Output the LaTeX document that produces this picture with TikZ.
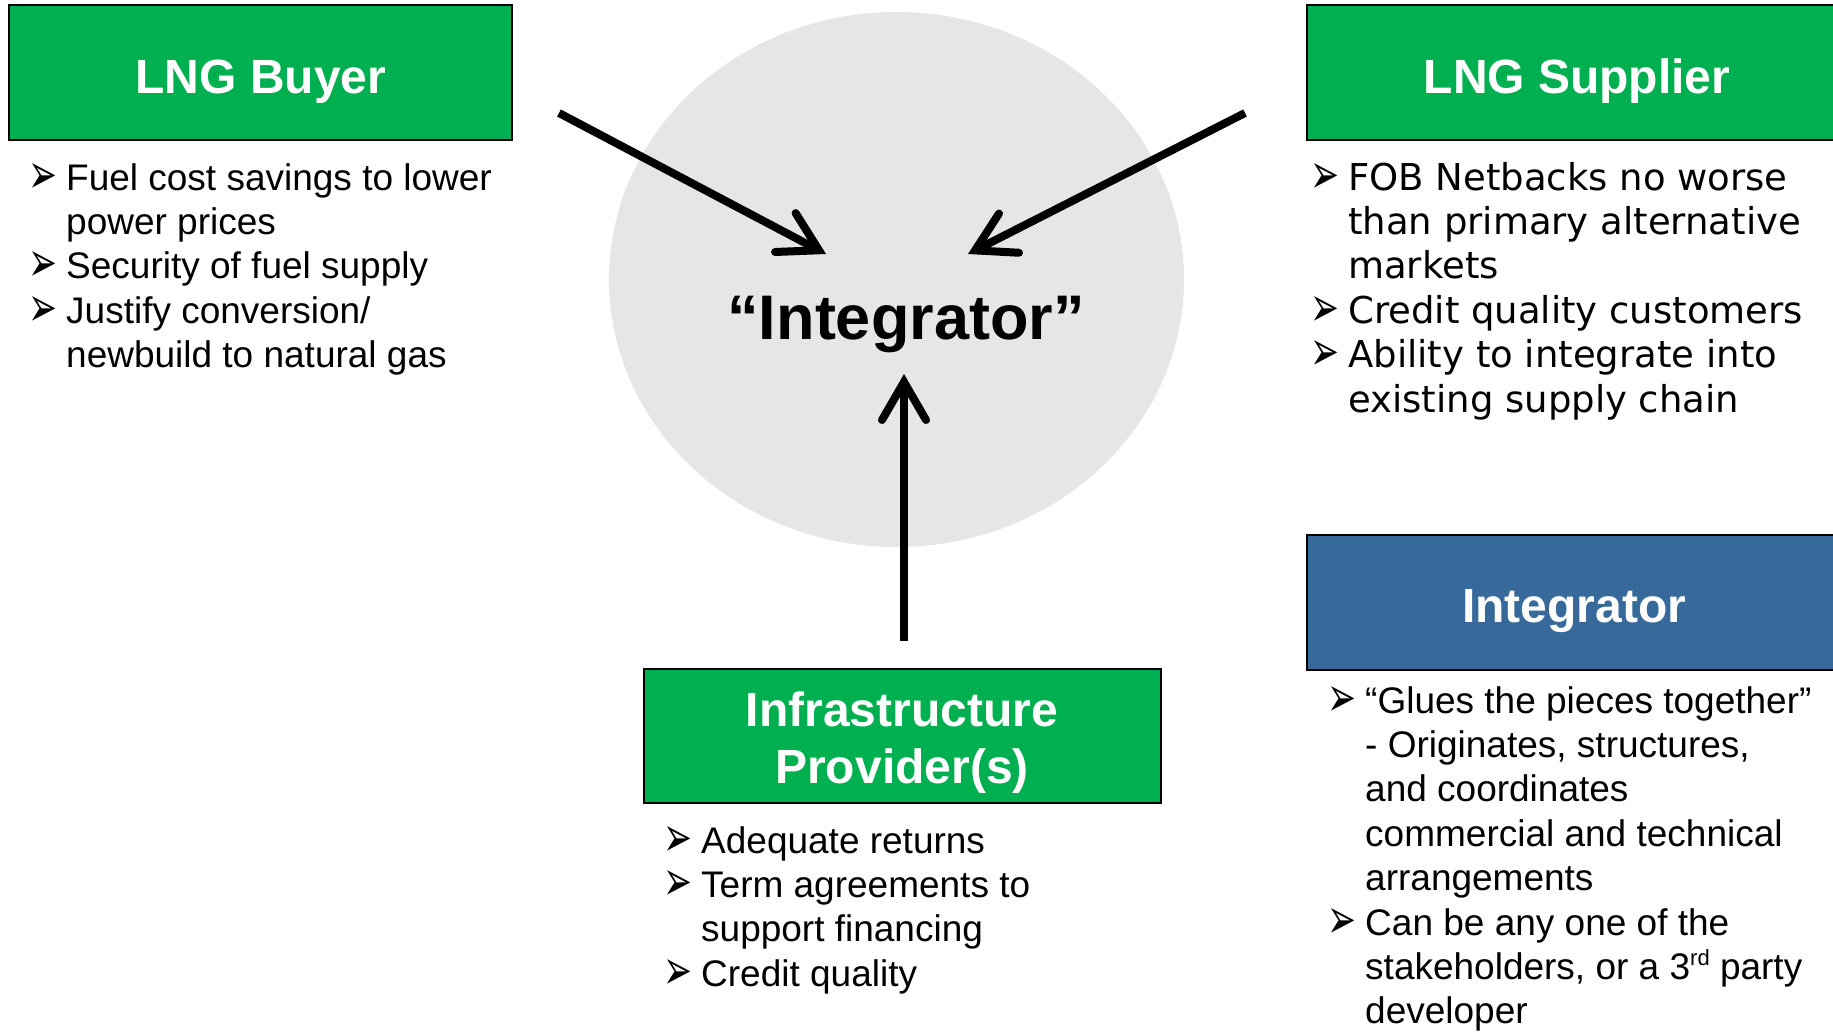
\documentclass[tikz,border=0pt]{standalone}
\usepackage{fontspec}
\setmainfont{Liberation Sans}
\newfontfamily\verd{DejaVu Sans}
\newfontfamily\symf{DejaVu Sans}
\usetikzlibrary{arrows.meta,shapes.geometric}
\definecolor{lnggreen}{HTML}{00B050}
\definecolor{intblue}{HTML}{37699A}
\definecolor{hubgray}{HTML}{E6E6E6}
\newcommand\bul{\makebox[34pt][l]{\hspace*{-4pt}\raisebox{-3pt}{\resizebox{29pt}{30pt}{\symf ➢}}}}
\begin{document}
\begin{tikzpicture}[x=1pt,y=-1pt,
  box/.style={draw=black, line width=1.5pt, inner sep=0pt, minimum width=#1, minimum height=135pt},
  title/.style={text=white, font=\fontsize{48}{57}\selectfont\bfseries, anchor=base, inner sep=0pt},
  blist/.style={anchor=base west, inner sep=0pt, font=\fontsize{37}{44.4}\selectfont},
  arr/.style={line width=8pt, -{Straight Barb[length=38pt, width=44pt, line cap=round, line join=miter]}}]
\useasboundingbox (0,0) rectangle (1833,1031);
% hub
\node[ellipse, fill=hubgray, minimum width=575pt, minimum height=535pt, inner sep=0pt] (hub) at (896.5,279.5) {};
\node[anchor=base, inner sep=0pt, font=\fontsize{63}{70}\selectfont\bfseries] (hubT) at (906,339) {“Integrator”};
% boxes
\node[box=503pt, fill=lnggreen] (buyer) at (260.5,72.5) {};
\node[title] (buyerT) at (261,93) {LNG Buyer};
\node[box=540pt, fill=lnggreen] (supplier) at (1577,72.5) {};
\node[title] (supplierT) at (1577,93) {LNG Supplier};
\node[box=540pt, fill=intblue] (integ) at (1577,602.5) {};
\node[title] (integT) at (1574,622) {Integrator};
\node[box=517pt, minimum height=134pt, fill=lnggreen] (infra) at (902.5,736) {};
\node[title] (infraT) at (902,726) {\begin{tabular}[t]{@{}c@{}}Infrastructure\\Provider(s)\end{tabular}};
% arrows
\coordinate (a1s) at (559,113);
\coordinate (a1e) at (826,254);
\coordinate (a2s) at (1245,113);
\coordinate (a2e) at (968,254);
\coordinate (a3s) at (904,641);
\coordinate (a3e) at (904,374);
\draw[arr] (a1s) -- (a1e);
\draw[arr] (a2s) -- (a2e);
\draw[arr] (a3s) -- (a3e);
% lists
\node[blist] (buyerL) at (32,190) {\begin{tabular}[t]{@{}l@{}l@{}}
\bul & Fuel cost savings to lower\\
 & power prices\\
\bul & Security of fuel supply\\
\bul & Justify conversion/\\
 & newbuild to natural gas
\end{tabular}};
\node[blist] (supplierL) at (1314,190) {\verd\begin{tabular}[t]{@{}l@{}l@{}}
\bul & FOB Netbacks no worse\\
 & than primary alternative\\
 & markets\\
\bul & Credit quality customers\\
\bul & Ability to integrate into\\
 & existing supply chain
\end{tabular}};
\node[blist] (infraL) at (667,853) {\begin{tabular}[t]{@{}l@{}l@{}}
\bul & Adequate returns\\
\bul & Term agreements to\\
 & support financing\\
\bul & Credit quality
\end{tabular}};
\node[blist] (integL) at (1331,713) {\begin{tabular}[t]{@{}l@{}l@{}}
\bul & “Glues the pieces together”\\
 & - Originates, structures,\\
 & and coordinates\\
 & commercial and technical\\
 & arrangements\\
\bul & Can be any one of the\\
 & stakeholders, or a 3\raisebox{14pt}{\fontsize{22}{22}\selectfont rd} party\\
 & developer
\end{tabular}};
\end{tikzpicture}
\end{document}
